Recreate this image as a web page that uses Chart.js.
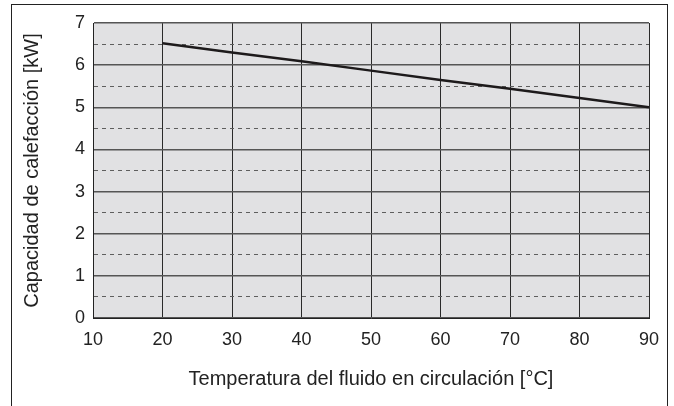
<!DOCTYPE html>
<html lang="es">
<head>
<meta charset="UTF-8">
<script src="https://cdn.jsdelivr.net/npm/chart.js@4"></script>
<style>
  html, body { margin: 0; padding: 0; background: #fff; }
  .wrap { position: relative; width: 674px; height: 406px; }
  .frame {
    position: absolute; left: 11px; top: 4px; width: 657px; height: 402px;
    border: 1px solid #222; border-bottom: none; box-sizing: border-box;
    pointer-events: none;
  }
  canvas { position: absolute; left: 0; top: 0; }
</style>
</head>
<body>
<div class="wrap">
  <canvas id="chart" width="674" height="406"></canvas>
  <div class="frame"></div>
</div>
<script>
// temperature of the circulating fluid [°C]
const temps = [20, 30, 40, 50, 60, 70, 80, 90];
// heating capacity [kW]
const capacity = [6.52, 6.30, 6.09, 5.87, 5.65, 5.44, 5.22, 5.00];
const xTicks = [10, 20, 30, 40, 50, 60, 70, 80, 90];
const yTicks = [0, 1, 2, 3, 4, 5, 6, 7];
// dashed helper lines between the labelled ticks
const yHalfTicks = [0.5, 1.5, 2.5, 3.5, 4.5, 5.5, 6.5];

const FONT = "'Liberation Sans', Arial, sans-serif";
const isHalf = ctx => ctx.tick && yHalfTicks.includes(ctx.tick.value);

// grey plot background
const plotBg = {
  id: 'plotBg',
  beforeDraw(chart) {
    const { ctx, chartArea: a } = chart;
    ctx.save();
    ctx.fillStyle = '#e1e1e3';
    ctx.fillRect(a.left, a.top, a.right - a.left, a.bottom - a.top);
    ctx.restore();
  }
};

new Chart(document.getElementById('chart'), {
  type: 'line',
  data: {
    datasets: [{
      data: temps.map((t, i) => ({ x: t, y: capacity[i] })),
      borderColor: '#1d1a1b',
      borderWidth: 2.5,
      pointRadius: 0,
      tension: 0,
      fill: false
    }]
  },
  options: {
    responsive: false,
    animation: false,
    layout: { padding: { left: 0, right: 25, top: 23, bottom: 0 } },
    plugins: { legend: { display: false }, tooltip: { enabled: false } },
    scales: {
      x: {
        type: 'linear',
        min: xTicks[0],
        max: xTicks[xTicks.length - 1],
        afterBuildTicks: s => { s.ticks = xTicks.map(v => ({ value: v })); },
        afterFit: s => { s.height = 88; },
        grid: { color: '#2a2a2a', lineWidth: 1, drawTicks: false },
        border: { color: '#222', width: 1 },
        ticks: { color: '#222', padding: 11, autoSkip: false, font: { family: FONT, size: 18 } },
        title: {
          display: true,
          text: 'Temperatura del fluido en circulación [°C]',
          color: '#222',
          padding: { top: 0, bottom: 15 },
          font: { family: FONT, size: 20 }
        }
      },
      y: {
        min: yTicks[0],
        max: yTicks[yTicks.length - 1],
        afterBuildTicks: s => {
          s.ticks = yTicks.concat(yHalfTicks).sort((a, b) => a - b).map(v => ({ value: v }));
        },
        ticks: {
          color: '#222',
          padding: 8,
          autoSkip: false,
          font: { family: FONT, size: 18 },
          callback: v => (yTicks.includes(v) ? v : '')
        },
        afterFit: s => { s.width = 93; },
        grid: {
          drawTicks: false,
          color: ctx => (isHalf(ctx) ? '#5e5e5e' : '#555'),
          lineWidth: ctx => (isHalf(ctx) ? 1 : 1.5)
        },
        border: {
          color: '#222', width: 1,
          dash: ctx => (isHalf(ctx) ? [4, 4] : [])
        },
        title: {
          display: true,
          text: 'Capacidad de calefacción [kW]',
          color: '#222',
          padding: { top: 20, bottom: 0 },
          font: { family: FONT, size: 20 }
        }
      }
    }
  },
  plugins: [plotBg]
});
</script>
</body>
</html>
